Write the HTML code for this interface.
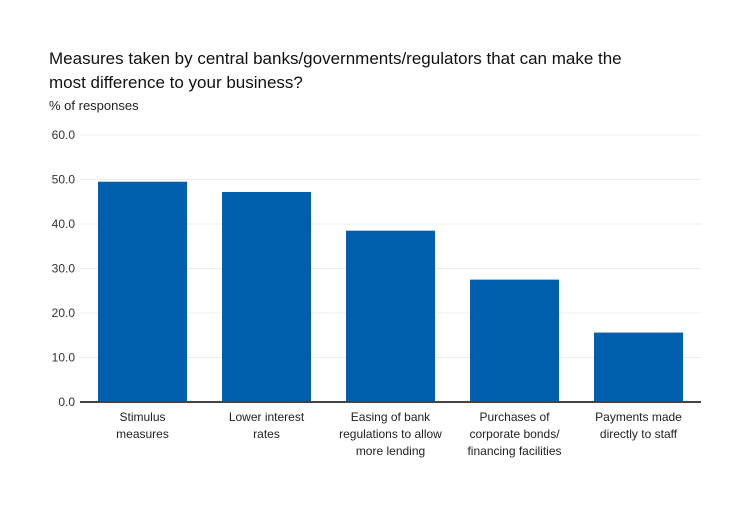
<!DOCTYPE html>
<html><head><meta charset="utf-8"><style>
body{margin:0;background:#fff;width:751px;height:500px;overflow:hidden;font-family:"Liberation Sans",sans-serif;}
</style></head><body>
<svg id="c" width="751" height="500" font-family="Liberation Sans, sans-serif">
<text x="49" y="64" font-size="17" fill="#111">Measures taken by central banks/governments/regulators that can make the</text>
<text x="49" y="88" font-size="17" fill="#111">most difference to your business?</text>
<text x="49" y="110" font-size="13" fill="#222">% of responses</text>
<g id="grid"></g><g id="bars"></g><g id="xl"></g>
</svg>
<script>
const categories=[["Stimulus","measures"],["Lower interest","rates"],["Easing of bank","regulations to allow","more lending"],["Purchases of","corporate bonds/","financing facilities"],["Payments made","directly to staff"]];
const values=[49.5,47.2,38.5,27.5,15.6];
const ticks=[0,10,20,30,40,50,60];
const tickLabels=["0.0","10.0","20.0","30.0","40.0","50.0","60.0"];
const NS="http://www.w3.org/2000/svg";
const y0=402,pxPer=4.45,x0=80,x1=701,step=124,bw=89,bx0=98;
const y=v=>y0-v*pxPer;
function mk(t,a,p){const e=document.createElementNS(NS,t);for(const k in a)e.setAttribute(k,a[k]);p.appendChild(e);return e;}
const g=document.getElementById('grid');
ticks.forEach((t,i)=>{
 if(t>0){const l=mk('line',{x1:x0,x2:x1,y1:y(t),y2:y(t),stroke:'#ececec','stroke-width':1},g);
 
 }
 const tx=mk('text',{x:75,y:y(t)+4,'text-anchor':'end','font-size':12,fill:'#333'},g);
 tx.textContent=tickLabels[i];
 
 
});
const b=document.getElementById('bars');
values.forEach((v,i)=>{
 const r=mk('rect',{x:bx0+i*step,y:y(v),width:bw,height:y0-y(v),fill:'#005eac'},b);
 
 
});
const ax=mk('line',{x1:x0,x2:x1,y1:y0,y2:y0,stroke:'#444','stroke-width':2},b);


const xl=document.getElementById('xl');
categories.forEach((c,i)=>{
 c.forEach((s,j)=>{
  const t=mk('text',{x:bx0+i*step+bw/2,y:421+j*17,'text-anchor':'middle','font-size':12,fill:'#222'},xl);
  t.textContent=s;
  
  
 });
});
</script>
</body></html>
